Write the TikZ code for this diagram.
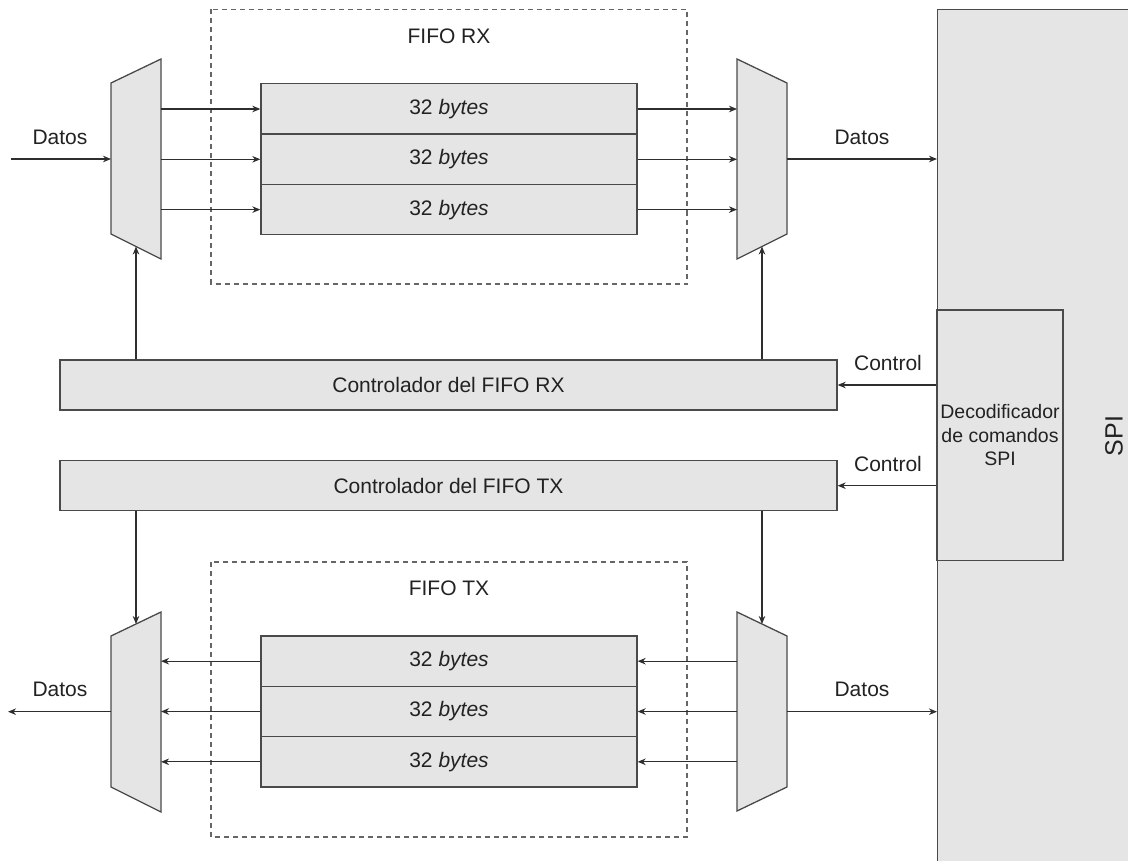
\documentclass[tikz,border=0pt]{standalone}
\usepackage{fontspec}
\setmainfont{Liberation Sans}
\usetikzlibrary{arrows.meta,calc}
\definecolor{blockfill}{HTML}{E5E5E5}
\definecolor{edge}{HTML}{4A4A4A}
\definecolor{wire}{HTML}{2E2E2E}
\definecolor{ink}{HTML}{222222}

\begin{document}
\begin{tikzpicture}[x=1pt,y=-1pt,
  txt/.style={font=\fontsize{21}{25}\selectfont, text=ink, inner sep=0pt},
  block/.style={draw=edge, line width=1.3pt, fill=blockfill, inner sep=0pt,
    font=\fontsize{21}{25}\selectfont, text=ink},
  bufrow/.style={block, minimum width=376pt, minimum height=50.3pt},
  ctrlbox/.style={block, minimum width=777pt, minimum height=50pt},
  muxshape/.style={draw=edge, line width=1.3pt, fill=blockfill, line join=miter},
  fifoframe/.style={draw=black!60, line width=1.2pt, dash pattern=on 5pt off 4pt},
  wire/.style={draw=wire, line width=1.2pt, -{Stealth[length=8pt,width=6.5pt,inset=2.5pt]}},
]
\clip (0,0) rectangle (1128,861);

% SPI block (runs off the right and bottom edges)
\node[block, minimum width=203pt, minimum height=870pt, anchor=north west] (spi) at (937,9) {};
\node[txt, font=\fontsize{25}{30}\selectfont, rotate=90] (spilabel) at (1114,436) {SPI};

% command decoder
\node[block, minimum width=126pt, minimum height=250.7pt, align=center,
      font=\fontsize{19.5}{23.5}\selectfont] (dec) at (1000,435.3)
      {Decodificador\\de comandos\\SPI};

% FIFO frames
\draw[fifoframe] (211,9.5) rectangle (687,284);
\node[txt] (rxtitle) at (449,36) {FIFO RX};
\draw[fifoframe] (211,562) rectangle (687,837);
\node[txt] (txtitle) at (449,588) {FIFO TX};

% RX buffers
\node[bufrow] (rxb1) at (449,109) {32 \textit{bytes}};
\node[bufrow] (rxb2) at (449,159.3) {32 \textit{bytes}};
\node[bufrow] (rxb3) at (449,209.6) {32 \textit{bytes}};

% TX buffers
\node[bufrow] (txb1) at (449,661.2) {32 \textit{bytes}};
\node[bufrow] (txb2) at (449,711.5) {32 \textit{bytes}};
\node[bufrow] (txb3) at (449,761.8) {32 \textit{bytes}};

% controllers
\node[ctrlbox] (ctrlrx) at (448.5,385) {Controlador del FIFO RX};
\node[ctrlbox] (ctrltx) at (448.5,485.7) {Controlador del FIFO TX};

% multiplexers
\draw[muxshape] (111,83) -- (161,59) -- (161,259) -- (111,234) -- cycle;
\draw[muxshape] (737,59) -- (787,83) -- (787,234) -- (737,259) -- cycle;
\draw[muxshape] (111,636) -- (161,612) -- (161,812) -- (111,787) -- cycle;
\draw[muxshape] (737,612) -- (787,636) -- (787,787) -- (737,811) -- cycle;

% mux ports
\coordinate (rxL-in)  at (111,159);
\coordinate (rxL-o1)  at (161,109);
\coordinate (rxL-o2)  at (161,159.3);
\coordinate (rxL-o3)  at (161,209.6);
\coordinate (rxL-sel) at (136,246.5);
\coordinate (rxR-i1)  at (737,109);
\coordinate (rxR-i2)  at (737,159.3);
\coordinate (rxR-i3)  at (737,209.6);
\coordinate (rxR-out) at (787,159);
\coordinate (rxR-sel) at (762,246.5);

\coordinate (txL-out) at (111,711.7);
\coordinate (txL-i1)  at (161,661.2);
\coordinate (txL-i2)  at (161,711.5);
\coordinate (txL-i3)  at (161,761.8);
\coordinate (txL-sel) at (136,624);
\coordinate (txR-o1)  at (737,661.2);
\coordinate (txR-o2)  at (737,711.5);
\coordinate (txR-o3)  at (737,761.8);
\coordinate (txR-in)  at (787,711.7);
\coordinate (txR-sel) at (762,624);

\coordinate (rxsrc) at (11,159);
\coordinate (txdst) at (8,711.7);

% RX data path
\draw[wire] (rxsrc) -- (rxL-in);
\draw[wire] (rxL-o1) -- (rxb1.west);
\draw[wire] (rxL-o2) -- (rxb2.west);
\draw[wire] (rxL-o3) -- (rxb3.west);
\draw[wire] (rxb1.east) -- (rxR-i1);
\draw[wire] (rxb2.east) -- (rxR-i2);
\draw[wire] (rxb3.east) -- (rxR-i3);
\draw[wire] (rxR-out) -- (rxR-out -| spi.west);
\node[txt] (rxin-lbl)  at (60,137) {Datos};
\node[txt] (rxout-lbl) at (862,137) {Datos};

% TX data path
\draw[wire] (txb1.west) -- (txL-i1);
\draw[wire] (txb2.west) -- (txL-i2);
\draw[wire] (txb3.west) -- (txL-i3);
\draw[wire] (txR-o1) -- (txb1.east);
\draw[wire] (txR-o2) -- (txb2.east);
\draw[wire] (txR-o3) -- (txb3.east);
\draw[wire] (txL-out) -- (txdst);
\draw[wire] (txR-in) -- (txR-in -| spi.west);
\node[txt] (txout-lbl) at (60,689) {Datos};
\node[txt] (txin-lbl)  at (862,689) {Datos};

% select lines
\draw[wire] (ctrlrx.north -| rxL-sel) -- (rxL-sel);
\draw[wire] (ctrlrx.north -| rxR-sel) -- (rxR-sel);
\draw[wire] (ctrltx.south -| txL-sel) -- (txL-sel);
\draw[wire] (ctrltx.south -| txR-sel) -- (txR-sel);

% control from decoder
\draw[wire] (dec.west |- ctrlrx) -- (ctrlrx.east);
\draw[wire] (dec.west |- ctrltx) -- (ctrltx.east);
\node[txt] (ctrlrx-lbl) at (888,363) {Control};
\node[txt] (ctrltx-lbl) at (888,463.5) {Control};
\end{tikzpicture}
\end{document}
